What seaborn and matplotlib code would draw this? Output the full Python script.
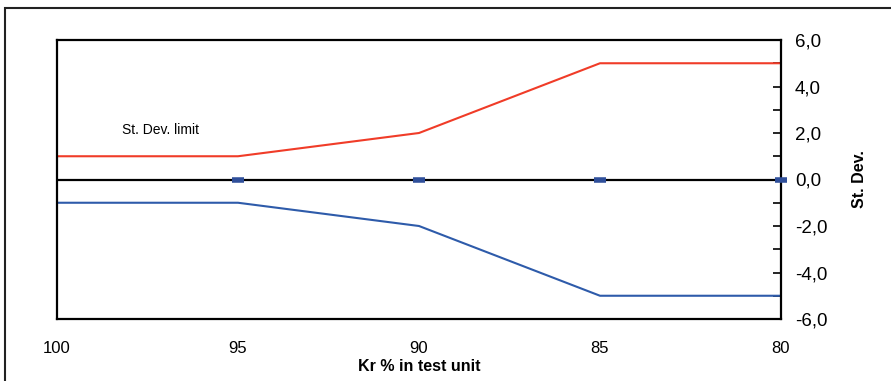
import matplotlib
matplotlib.use("Agg")
import matplotlib.pyplot as plt
import seaborn as sns
import pandas as pd
from matplotlib.ticker import FuncFormatter, MultipleLocator
from matplotlib.patches import Rectangle

sns.set_theme(style="white")
plt.rcParams['font.family'] = ['Liberation Sans', 'DejaVu Sans']
plt.rcParams['text.color'] = 'black'
plt.rcParams['xtick.color'] = 'black'
plt.rcParams['ytick.color'] = 'black'
plt.rcParams['axes.labelcolor'] = 'black'

kr = [100, 95, 90, 85, 80]
upper_limit = [1, 1, 2, 5, 5]
lower_limit = [-1, -1, -2, -5, -5]
zero_line = [0, 0, 0, 0, 0]
marker_kr = [95, 90, 85, 80]
marker_val = [0, 0, 0, 0]
xticks = [100, 95, 90, 85, 80]
yticks = [-6, -4, -2, 0, 2, 4, 6]

df = pd.DataFrame({"kr": kr, "upper": upper_limit, "lower": lower_limit, "zero": zero_line})
dm = pd.DataFrame({"kr": marker_kr, "val": marker_val})

fig = plt.figure(figsize=(8.91, 3.81), dpi=100)
ax = fig.add_axes([57/891, 1-319/381, (781-57)/891, (319-40)/381])

sns.lineplot(data=df, x="kr", y="zero", ax=ax, color="black", linewidth=1.6, sort=False)
sns.lineplot(data=df, x="kr", y="upper", ax=ax, color="#F03C28", linewidth=1.5, sort=False)
sns.lineplot(data=df, x="kr", y="lower", ax=ax, color="#2E5BAA", linewidth=1.5, sort=False)
sns.scatterplot(data=dm, x="kr", y="val", ax=ax, marker="_", s=75, linewidth=4,
                color="#2F4F9A", zorder=5, clip_on=False)

ax.set_xlim(100, 80)
ax.set_ylim(-6, 6)
ax.set_xticks(xticks)
ax.set_xticklabels([str(v) for v in xticks], fontsize=12)
ax.yaxis.tick_right()
ax.yaxis.set_label_position("right")
ax.set_yticks(yticks)
ax.yaxis.set_minor_locator(MultipleLocator(1))
ax.yaxis.set_major_formatter(FuncFormatter(lambda v, p: f"{v:.1f}".replace(".", ",")))
for lab in ax.get_yticklabels():
    lab.set_fontsize(13.5)
ax.tick_params(axis="y", which="major", direction="in", length=6, width=1.2, color="black",
               pad=10, right=True, left=False)
ax.tick_params(axis="y", which="minor", direction="in", length=6, width=1.2, color="black",
               right=True, left=False)
ax.tick_params(axis="x", length=0, pad=16)
ax.set_xlabel("Kr % in test unit", fontsize=11.5, fontweight="bold", labelpad=2)
ax.set_ylabel("St. Dev.", fontsize=11.5, fontweight="bold", labelpad=18)
for s in ax.spines.values():
    s.set_color("black")
    s.set_linewidth(1.6)
ax.grid(False)

ax.text(97.15, 2.15, "St. Dev. limit", fontsize=10, color="black", ha="center", va="center")

fig.patches.append(Rectangle((5/891, -0.1), 1.2, 1 - 8/381 + 0.1, transform=fig.transFigure,
                             fill=False, edgecolor="#222222", linewidth=1.5))

fig.savefig("out.png", dpi=100)
